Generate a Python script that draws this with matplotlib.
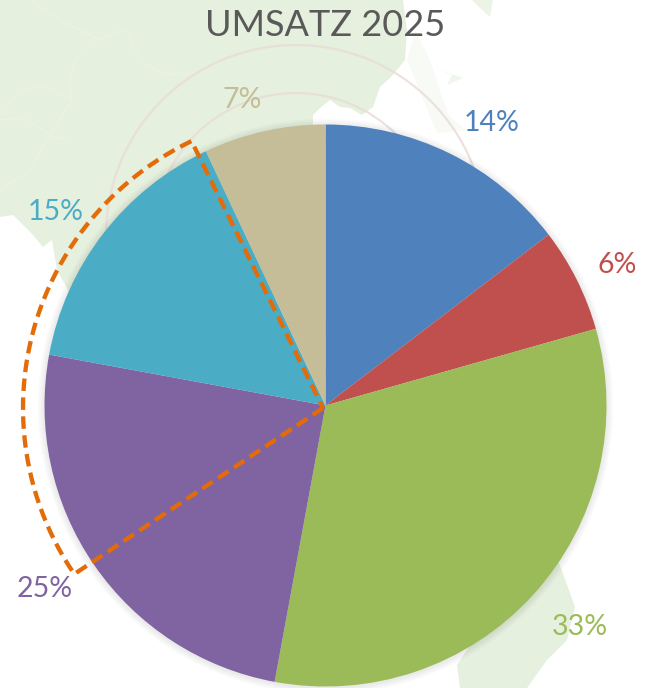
import numpy as np
import matplotlib
matplotlib.use("Agg")
import matplotlib.pyplot as plt
from matplotlib.patches import Polygon, Circle

W, H = 657, 688
title = "UMSATZ 2025"
shares = [14.6, 6.0, 32.3, 25.0, 15.1, 7.0]
labels = ["14%", "6%", "33%", "25%", "15%", "7%"]
colors = ["#4F81BD", "#C0504D", "#9BBB59", "#8064A2", "#4BACC6", "#C4BD97"]
label_xy = [(492, 123), (617, 265), (580, 627), (45, 589), (56, 212), (242, 100)]

land_main = [(0, 0), (403, 0), (407, 30), (405, 60), (392, 76), (380, 87), (373, 107),
             (362, 115), (350, 108), (340, 107), (330, 100), (320, 108), (313, 115),
             (313, 300), (68, 300), (68, 290), (57, 270), (52, 240), (43, 247),
             (33, 235), (13, 215), (0, 217)]
land_right = [(407, 60), (437, 133), (466, 130), (450, 117), (443, 100), (430, 60), (415, 30)]
land_isle = [(440, 70), (463, 78), (447, 85), (452, 75)]
land_top = [(472, 0), (493, 0), (490, 17), (480, 8)]
land_south = [(558, 560), (570, 593), (575, 607), (567, 640), (547, 660), (527, 688),
              (460, 688), (457, 665), (500, 600)]
rivers = [[(30, 0), (60, 20), (90, 35), (100, 40), (125, 28), (140, 60), (165, 75), (205, 72)],
          [(95, 38), (75, 60), (70, 78), (72, 100), (40, 85), (15, 95), (0, 115)],
          [(72, 100), (50, 135), (30, 170), (0, 190)],
          [(0, 120), (25, 118), (50, 135), (70, 142)]]

fig = plt.figure(figsize=(W / 100, H / 100), dpi=100, facecolor="white")
plt.rcParams["font.family"] = ["Lato", "DejaVu Sans"]
bg = fig.add_axes([0, 0, 1, 1])
bg.set_xlim(0, W)
bg.set_ylim(H, 0)
bg.axis("off")

land = "#E5F0DF"
for poly, alpha in [(land_main, 1), (land_right, .3), (land_isle, .6), (land_top, .7), (land_south, 1)]:
    bg.add_patch(Polygon(poly, closed=True, fc=land, ec="none", alpha=alpha, zorder=1))
for r in rivers:
    xs, ys = zip(*r)
    bg.plot(xs, ys, color="#E9F2E4", lw=1.2, zorder=2)
for rad in [190, 142, 97]:
    bg.add_patch(Circle((296, 235), rad, fill=False, ec="#EADBD6", lw=1.6, alpha=.8, zorder=3))

cx, cy, R = 325.5, 405.5, 281
for i in range(7, 0, -1):
    bg.add_patch(Circle((cx, cy + 1), R + i, fc="black", ec="none", alpha=.012, zorder=4))

ax = fig.add_axes([(cx - R) / W, 1 - (cy + R) / H, 2 * R / W, 2 * R / H])
ax.pie(shares, colors=colors, startangle=90, counterclock=False, radius=1,
       wedgeprops=dict(linewidth=0))
ax.set_xlim(-1, 1)
ax.set_ylim(-1, 1)
ax.set_zorder(2)

top = fig.add_axes([0, 0, 1, 1])
top.set_xlim(0, W)
top.set_ylim(H, 0)
top.axis("off")
top.patch.set_alpha(0)
top.set_zorder(3)

# dashed call-out around the grouped slices
ox, oy, orx, ory = 323, 408, 300, 297
t = np.radians(np.linspace(236, 334, 160))
px = np.r_[ox, ox + orx * np.sin(t), ox]
py = np.r_[oy, oy - ory * np.cos(t), oy]
top.plot(px, py, color="#E36C09", lw=3.1, dashes=(2.9, 1.5), dash_capstyle="butt",
         dash_joinstyle="round", zorder=5)

top.text(325, 26, title, ha="center", va="center", fontsize=26, color="#595959")
for (x, y), s, c in zip(label_xy, labels, colors):
    top.text(x, y, s, ha="center", va="center", fontsize=20.5, color=c)

fig.savefig("out.png", dpi=100)
